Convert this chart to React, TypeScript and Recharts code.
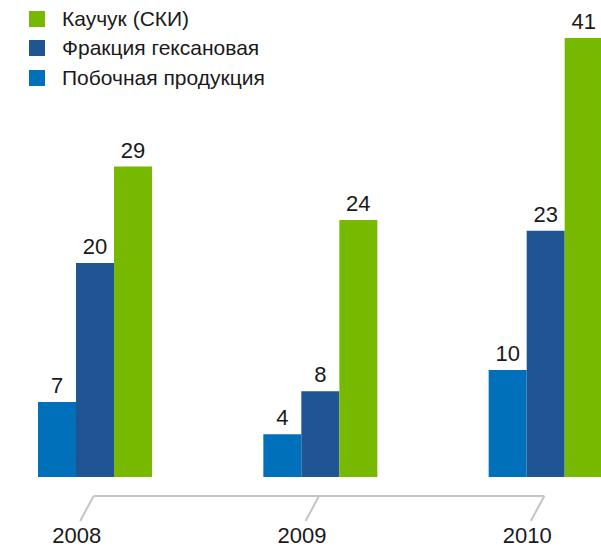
import { BarChart, Bar, XAxis, YAxis, Legend, LabelList } from 'recharts'

const years = ['2008', '2009', '2010']
const byproduct = [7, 4, 10]
const hexane = [20, 8, 23]
const rubber = [29, 24, 41]

const COLORS = {
  byproduct: '#0070ba',
  hexane: '#1f5592',
  rubber: '#76b900',
}

// legend lists the series top-down in reverse of the bar order
const LEGEND_ORDER = ['rubber', 'hexane', 'byproduct']

const CHART_W = 676
const CHART_H = 550
const STEP = CHART_W / years.length
const AXIS_GRAY = '#c4c4c4'

const data = years.map((year, i) => ({
  year,
  byproduct: byproduct[i],
  hexane: hexane[i],
  rubber: rubber[i],
}))

function YearTick({ x, payload, index }: any) {
  const top = 496
  const bottom = 521
  const tx = x - 1
  return (
    <g>
      {index < years.length - 1 && (
        <line x1={tx} y1={top} x2={tx + STEP} y2={top} stroke={AXIS_GRAY} strokeWidth={2} />
      )}
      <line x1={tx} y1={top} x2={tx - 13.5} y2={bottom} stroke={AXIS_GRAY} strokeWidth={2} />
      <text x={x - 18} y={543} textAnchor="middle" fontSize={22} fill="#1a1a1a">
        {payload.value}
      </text>
    </g>
  )
}

const renderLegend = ({ payload }: any) => {
  const items = [...(payload || [])].sort(
    (a: any, b: any) => LEGEND_ORDER.indexOf(a.dataKey) - LEGEND_ORDER.indexOf(b.dataKey)
  )
  return (
    <div style={{ display: 'flex', flexDirection: 'column' }}>
      {items.map((p: any) => (
        <div key={p.value} style={{ display: 'flex', alignItems: 'center', height: 29.3 }}>
          <span style={{ width: 16, height: 16, background: p.color, marginRight: 17, flexShrink: 0 }} />
          <span style={{ fontSize: 21, color: '#1a1a1a', whiteSpace: 'nowrap' }}>{p.value}</span>
        </div>
      ))}
    </div>
  )
}

export default function App() {
  return (
    <div
      style={{
        position: 'fixed',
        left: 0,
        top: 0,
        width: 601,
        height: 550,
        overflow: 'hidden',
        background: '#fff',
        fontFamily: '"Liberation Sans", Arial, sans-serif',
      }}
    >
      <div style={{ position: 'absolute', left: -18, top: 0 }}>
        <BarChart
          width={CHART_W}
          height={CHART_H}
          data={data}
          margin={{ top: 6, right: 0, bottom: 0, left: 0 }}
          barCategoryGap={56}
          barGap={0}
        >
          <XAxis
            dataKey="year"
            height={73}
            axisLine={false}
            tickLine={false}
            interval={0}
            tick={<YearTick />}
          />
          <YAxis hide domain={[0, 44]} />
          <Legend
            layout="horizontal"
            verticalAlign="middle"
            align="center"
            content={renderLegend}
            wrapperStyle={{ left: 47, top: 4.5, width: 320, height: 90 }}
          />
          <Bar dataKey="byproduct" name="Побочная продукция" fill={COLORS.byproduct} isAnimationActive={false}>
            <LabelList dataKey="byproduct" position="top" offset={9} fontSize={22} fill="#1a1a1a" />
          </Bar>
          <Bar dataKey="hexane" name="Фракция гексановая" fill={COLORS.hexane} isAnimationActive={false}>
            <LabelList dataKey="hexane" position="top" offset={9} fontSize={22} fill="#1a1a1a" />
          </Bar>
          <Bar dataKey="rubber" name="Каучук (СКИ)" fill={COLORS.rubber} isAnimationActive={false}>
            <LabelList dataKey="rubber" position="top" offset={9} fontSize={22} fill="#1a1a1a" />
          </Bar>
        </BarChart>
      </div>
    </div>
  )
}
